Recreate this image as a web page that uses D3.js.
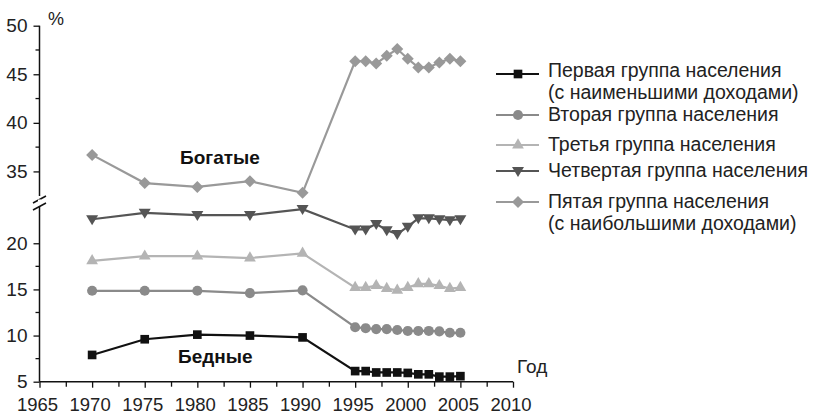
<!DOCTYPE html>
<html>
<head>
<meta charset="utf-8">
<script src="https://cdn.jsdelivr.net/npm/d3@7"></script>
<style>
  body { margin: 0; background: #fff; }
  svg { font-family: "Liberation Sans", Arial, sans-serif; }
  .tick text { font-size: 19px; fill: #222; }
  .axis path, .axis line { stroke: #111; }
</style>
</head>
<body>
<svg width="815" height="416"></svg>
<script>
// data
var years = [1970, 1975, 1980, 1985, 1990, 1995, 1996, 1997, 1998, 1999, 2000, 2001, 2002, 2003, 2004, 2005];
var group1 = [7.9, 9.6, 10.1, 10.0, 9.8, 6.15, 6.15, 6.0, 6.0, 6.0, 5.95, 5.8, 5.8, 5.55, 5.55, 5.6];
var group2 = [14.85, 14.85, 14.85, 14.6, 14.9, 10.9, 10.8, 10.7, 10.7, 10.6, 10.5, 10.5, 10.5, 10.45, 10.3, 10.3];
var group3 = [18.1, 18.6, 18.6, 18.4, 18.9, 15.2, 15.2, 15.4, 15.1, 14.9, 15.2, 15.6, 15.6, 15.4, 15.1, 15.2];
var group4 = [22.6, 23.3, 23.05, 23.05, 23.7, 21.5, 21.5, 22.1, 21.4, 21.0, 21.8, 22.7, 22.7, 22.6, 22.5, 22.6];
var group5 = [36.7, 33.8, 33.4, 34.0, 32.8, 46.35, 46.35, 46.1, 46.9, 47.6, 46.6, 45.7, 45.7, 46.2, 46.6, 46.35];

var legendLabels = [
  ['Первая группа населения', '(с наименьшими доходами)'],
  ['Вторая группа населения'],
  ['Третья группа населения'],
  ['Четвертая группа населения'],
  ['Пятая группа населения', '(с наибольшими доходами)']
];
var xTicks = [1965, 1970, 1975, 1980, 1985, 1990, 1995, 2000, 2005, 2010];
var yTicksLow = [5, 10, 15, 20];
var yTicksHigh = [35, 40, 45, 50];

var svg = d3.select('svg');

const x = d3.scaleLinear().domain([1965, 2010]).range([39.5, 513]);
const yLow = d3.scaleLinear().domain([5, 23.8]).range([381.7, 208.2]);
const yHigh = d3.scaleLinear().domain([32.5, 50]).range([195.7, 25.7]);

// series styles
const series = [
  { values: group1, scale: yLow, color: '#111', marker: d3.symbolSquare, size: 75 },
  { values: group2, scale: yLow, color: '#8a8a8a', marker: d3.symbolCircle, size: 80 },
  { values: group3, scale: yLow, color: '#b4b4b4', marker: d3.symbolTriangle, size: 60 },
  { values: group4, scale: yLow, color: '#555', marker: 'down', size: 60 },
  { values: group5, scale: yHigh, color: '#999', marker: 'diamond', size: 0 }
];

function markerPath(s) {
  if (s.marker === 'down') {
    return 'M-6,-4L6,-4L0,6Z';
  }
  if (s.marker === 'diamond') {
    return 'M0,-6L6,0L0,6L-6,0Z';
  }
  return d3.symbol().type(s.marker).size(s.size)();
}

// axes
const gx = svg.append('g').attr('class', 'axis')
  .attr('transform', 'translate(0,381.7)');
gx.call(d3.axisBottom(x).tickValues(d3.range(1965, 2010.1, 2.5)).tickSize(6).tickFormat(''));
gx.select('.domain').attr('d', 'M39.5,0H513').attr('stroke-width', 1.5);
gx.selectAll('.tick line').attr('stroke-width', 1.3);
gx.selectAll('.tick').filter(d => xTicks.indexOf(d) < 0).select('line').attr('y2', 5);

svg.append('g').selectAll('text')
  .data(xTicks)
  .join('text')
  .attr('x', d => x(d) - 2)
  .attr('y', 411)
  .attr('text-anchor', 'middle')
  .attr('font-size', 18.5)
  .attr('fill', '#222')
  .text(d => d);

function yAxis(scale, major, minorTicks, top, bottom) {
  const g = svg.append('g').attr('class', 'axis').attr('transform', 'translate(39.5,0)');
  g.call(d3.axisLeft(scale).tickValues(major).tickSize(6).tickPadding(6));
  g.select('.domain').attr('d', 'M0,' + top + 'V' + bottom).attr('stroke-width', 1.5);
  g.selectAll('.tick line').attr('stroke-width', 1.3);
  g.selectAll('.minor').data(minorTicks).join('line')
    .attr('x1', -4).attr('x2', 0)
    .attr('y1', d => scale(d)).attr('y2', d => scale(d))
    .attr('stroke', '#111').attr('stroke-width', 1.3);
}
yAxis(yLow, yTicksLow, [7.5, 12.5, 17.5], 206, 381.7);
yAxis(yHigh, yTicksHigh, [37.5, 42.5, 47.5], 25.7, 196);

// axis break marks
svg.append('g').selectAll('line')
  .data([0, 7])
  .join('line')
  .attr('x1', 33).attr('x2', 46)
  .attr('y1', d => 203 + d).attr('y2', d => 196 + d)
  .attr('stroke', '#111').attr('stroke-width', 1.5);
svg.append('rect').attr('x', 38).attr('y', 199.5).attr('width', 3).attr('height', 4).attr('fill', '#fff');

// lines and markers
series.forEach(function(s) {
  const line = d3.line().x((d, i) => x(years[i])).y(d => s.scale(d));
  svg.append('path')
    .datum(s.values)
    .attr('d', line)
    .attr('fill', 'none')
    .attr('stroke', s.color)
    .attr('stroke-width', 2.2);
  svg.append('g').selectAll('path')
    .data(s.values)
    .join('path')
    .attr('transform', (d, i) => 'translate(' + x(years[i]) + ',' + s.scale(d) + ')')
    .attr('d', markerPath(s))
    .attr('fill', s.color);
});

// text labels
svg.append('text').attr('x', 48).attr('y', 25).attr('font-size', 18).attr('fill', '#222').text('%');
svg.append('text').attr('x', 517).attr('y', 373).attr('font-size', 19).attr('fill', '#222').text('Год');
svg.append('text').attr('x', 180).attr('y', 164).attr('font-size', 19).attr('font-weight', 'bold').attr('fill', '#111').text('Богатые');
svg.append('text').attr('x', 178).attr('y', 363).attr('font-size', 19).attr('font-weight', 'bold').attr('fill', '#111').text('Бедные');

// legend
const legendY = [74, 115, 145, 171, 202];
const legend = svg.append('g');
series.forEach(function(s, i) {
  const g = legend.append('g').attr('transform', 'translate(0,' + legendY[i] + ')');
  g.append('line').attr('x1', 496).attr('x2', 539).attr('y1', 0).attr('y2', 0)
    .attr('stroke', s.color).attr('stroke-width', 2.2);
  g.append('path').attr('transform', 'translate(518,0)')
    .attr('d', markerPath(s)).attr('fill', s.color);
  legendLabels[i].forEach(function(t, j) {
    g.append('text').attr('x', 548).attr('y', (i === 0 ? 3 : 6) + j * 22)
      .attr('font-size', 19.5).attr('fill', '#222').text(t);
  });
});
</script>
</body>
</html>
